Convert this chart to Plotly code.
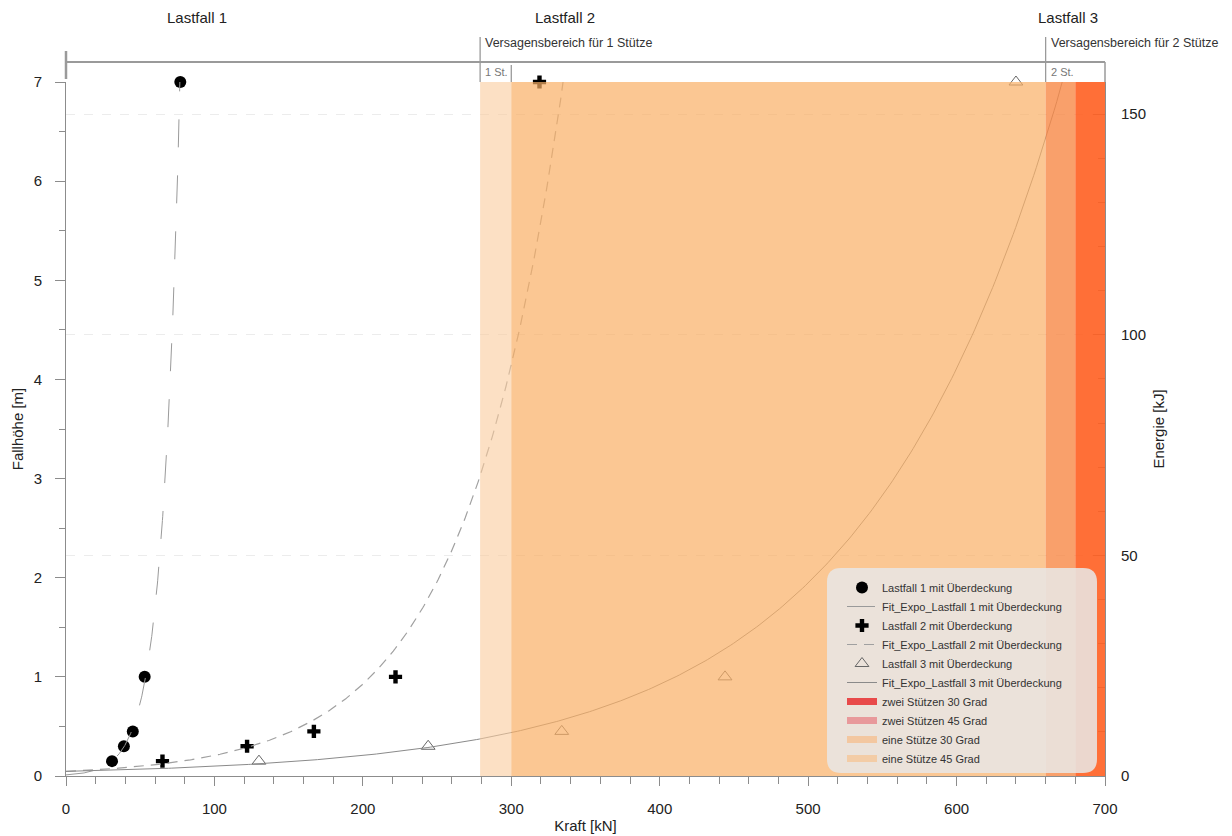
import numpy as np
import plotly.graph_objects as go

# ---------------- data ----------------
heights = [0.15, 0.3, 0.45, 1.0, 7.0]                 # Fallhöhe [m]
force_lf1 = [31, 39, 45, 53, 77]                       # Kraft [kN] Lastfall 1
force_lf2 = [65, 122, 167, 222, 319]                   # Kraft [kN] Lastfall 2
force_lf3 = [130, 244, 334, 444, 640]                  # Kraft [kN] Lastfall 3
energy_per_meter = 22.47                               # kJ per m Fallhöhe

x_ticks = [0, 100, 200, 300, 400, 500, 600, 700]
y_ticks = [0, 1, 2, 3, 4, 5, 6, 7]
y2_ticks = [0, 50, 100, 150]

# failure zones (kN)
zone_names = ["eine Stütze 45 Grad", "eine Stütze 30 Grad", "zwei Stützen 45 Grad", "zwei Stützen 30 Grad"]
zone_start = [279, 300, 660, 680]
zone_end = [300, 660, 680, 700]

FONT = "Liberation Sans, Arial, sans-serif"
GREY = "#8c8c8c"

# page has an 8px body margin -> figure coords = page coords - 8
OFF = 8
W, H = 1224, 828
ML, MT = 66 - OFF, 82 - OFF
PW, PH = 1039, 694
MR = W - ML - PW
MB = H - MT - PH


def px_to_paper(px, py):
    """page pixel -> paper coords"""
    return (px - OFF - ML) / PW, (MT + PH - (py - OFF)) / PH


def fit_expo(F, h, fmax):
    b, ln_a = np.polyfit(np.asarray(F, float), np.log(np.asarray(h, float)), 1)
    xs = np.linspace(0, fmax, 400)
    return xs, np.exp(ln_a) * np.exp(b * xs)


fig = go.Figure()

fx1, fy1 = fit_expo(force_lf1, heights, 80)
fx2, fy2 = fit_expo(force_lf2, heights, 345)
fx3, fy3 = fit_expo(force_lf3, heights, 690)

fig.add_trace(go.Scatter(x=force_lf1, y=heights, mode="markers", name="Lastfall 1 mit Überdeckung",
                         marker=dict(symbol="circle", size=12, color="black"), cliponaxis=False))
fig.add_trace(go.Scatter(x=fx1, y=fy1, mode="lines", name="Fit_Expo_Lastfall 1 mit Überdeckung",
                         line=dict(color="#9a9a9a", width=1, dash="28px,28px")))
fig.add_trace(go.Scatter(x=force_lf2, y=heights, mode="markers", name="Lastfall 2 mit Überdeckung",
                         marker=dict(symbol="cross", size=11, color="black"), cliponaxis=False))
fig.add_trace(go.Scatter(x=fx2, y=fy2, mode="lines", name="Fit_Expo_Lastfall 2 mit Überdeckung",
                         line=dict(color="#a0a0a0", width=1.2, dash="10px,7px")))
fig.add_trace(go.Scatter(x=force_lf3, y=heights, mode="markers", name="Lastfall 3 mit Überdeckung",
                         marker=dict(symbol="triangle-up-open", size=12, color="#666666", line=dict(width=1)),
                         cliponaxis=False))
fig.add_trace(go.Scatter(x=fx3, y=fy3, mode="lines", name="Fit_Expo_Lastfall 3 mit Überdeckung",
                         line=dict(color="#8a8a8a", width=1)))

legend_zone_colors = {"zwei Stützen 30 Grad": "#e84a4a", "zwei Stützen 45 Grad": "#e8999b",
                      "eine Stütze 30 Grad": "#f3c7a0", "eine Stütze 45 Grad": "#f3cca6"}
for nm in ["zwei Stützen 30 Grad", "zwei Stützen 45 Grad", "eine Stütze 30 Grad", "eine Stütze 45 Grad"]:
    fig.add_trace(go.Scatter(x=[None], y=[None], mode="lines", name=nm,
                             line=dict(color=legend_zone_colors[nm], width=7)))

fig.add_trace(go.Scatter(x=[None], y=[None], yaxis="y2", showlegend=False, hoverinfo="skip"))

shapes = []
zone_fill = ["rgba(250,203,157,0.6)", "rgba(249,175,101,0.7)", "rgba(248,136,70,0.8)", "rgba(255,95,33,0.9)"]
for x0, x1, c in zip(zone_start, zone_end, zone_fill):
    shapes.append(dict(type="rect", xref="x", yref="y", x0=x0, x1=x1, y0=0, y1=max(y_ticks),
                       fillcolor=c, line=dict(width=0), layer="above"))


def fx(v):  # kN -> page px
    return OFF + ML + v / 700 * PW


def pline(px0, py0, px1, py1, w=1.5, color="#9a9a9a"):
    a0, b0 = px_to_paper(px0, py0)
    a1, b1 = px_to_paper(px1, py1)
    return dict(type="line", xref="paper", yref="paper", x0=a0, y0=b0, x1=a1, y1=b1,
                line=dict(color=color, width=w), layer="above")


shapes += [
    pline(fx(0), 62, fx(700), 62, 2),
    pline(fx(0), 51, fx(0), 79, 2.5),
    pline(fx(279), 37, fx(279), 82, 1.3),
    pline(fx(300), 65, fx(300), 82, 1.3),
    pline(fx(660), 37, fx(660), 82, 1.3),
    pline(fx(700), 62, fx(700), 82, 1.5),
]


def rrect(x0, y0, x1, y1, r):
    def P(x, y):
        a, b = px_to_paper(x, y)
        return f"{a:.5f},{b:.5f}"
    return (f"M{P(x0 + r, y0)} L{P(x1 - r, y0)} Q{P(x1, y0)} {P(x1, y0 + r)} "
            f"L{P(x1, y1 - r)} Q{P(x1, y1)} {P(x1 - r, y1)} L{P(x0 + r, y1)} "
            f"Q{P(x0, y1)} {P(x0, y1 - r)} L{P(x0, y0 + r)} Q{P(x0, y0)} {P(x0 + r, y0)} Z")


shapes.append(dict(type="path", xref="paper", yref="paper", path=rrect(827, 568, 1097, 773, 14),
                   fillcolor="rgba(232,230,228,0.88)", line=dict(width=0), layer="above"))

annotations = []


def ann(text, xkn, py, size, color="#222", anchor="center"):
    _, b = px_to_paper(0, py)
    annotations.append(dict(text=text, x=xkn, xref="x", y=b, yref="paper", showarrow=False,
                            xanchor=anchor, yanchor="middle", font=dict(family=FONT, size=size, color=color)))


ann("Lastfall 1", 88, 18, 15)
ann("Lastfall 2", 336.5, 18, 15)
ann("Lastfall 3", 675, 18, 15)
ann("Versagensbereich für 1 Stütze", 281, 43, 12.5, "#333", "left")
ann("Versagensbereich für 2 Stütze", 662, 43, 12.5, "#333", "left")
ann("1 St.", 281, 72, 11, "#777", "left")
ann("2 St.", 662, 72, 11, "#777", "left")

fig.update_layout(
    width=W, height=H,
    margin=dict(l=ML, r=MR, t=MT, b=MB, autoexpand=False),
    paper_bgcolor="white", plot_bgcolor="white",
    font=dict(family=FONT, size=15, color="#222"),
    showlegend=True,
    legend=dict(x=px_to_paper(842, 0)[0], y=px_to_paper(0, 573)[1], xanchor="left", yanchor="top",
                bgcolor="rgba(0,0,0,0)", borderwidth=0, tracegroupgap=0,
                font=dict(family=FONT, size=11, color="#333")),
    xaxis=dict(range=[0, 700], tickvals=x_ticks, showgrid=False, zeroline=False, automargin=False,
               showline=True, linecolor=GREY, linewidth=1, ticks="outside", ticklen=9, tickcolor=GREY,
               minor=dict(dtick=20, ticks="outside", ticklen=7, tickcolor=GREY),
               ticklabelstandoff=10,
               title=dict(text="Kraft [kN]", font=dict(size=15), standoff=4)),
    yaxis=dict(range=[0, 7], tickvals=y_ticks, showgrid=False, zeroline=False, automargin=False,
               showline=True, linecolor=GREY, linewidth=1, ticks="outside", ticklen=10, tickcolor=GREY,
               minor=dict(dtick=0.5, ticks="outside", ticklen=6, tickcolor=GREY),
               ticklabelstandoff=10,
               title=dict(text="Fallhöhe [m]", font=dict(size=15), standoff=6)),
    yaxis2=dict(range=[0, 7 * energy_per_meter], tickvals=y2_ticks, overlaying="y", side="right",
                showgrid=True, gridcolor="#ececec", griddash="dash", gridwidth=1, zeroline=False,
                automargin=False,
                showline=True, linecolor=GREY, linewidth=1, ticks="inside", ticklen=12, tickcolor=GREY,
                minor=dict(dtick=10, ticks="inside", ticklen=7, tickcolor=GREY),
                ticklabelstandoff=12,
                title=dict(text="Energie [kJ]", font=dict(size=15), standoff=8)),
    shapes=shapes,
    annotations=annotations,
)

fig.write_html("out.html")
